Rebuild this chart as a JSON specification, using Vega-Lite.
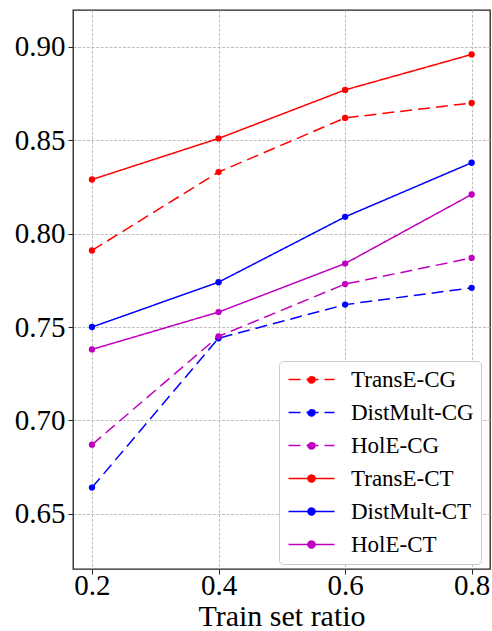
{
  "$schema": "https://vega.github.io/schema/vega-lite/v6.json",
  "width": 417,
  "height": 559,
  "autosize": "none",
  "padding": {"left": 73, "top": 10, "right": 2, "bottom": 62},
  "background": "white",
  "config": {
    "view": {"stroke": "#222222", "strokeWidth": 1.3},
    "font": "Liberation Serif",
    "axis": {
      "domain": false,
      "grid": true,
      "gridColor": "#b0b0b0",
      "gridDash": [3, 1.5],
      "gridWidth": 0.8,
      "ticks": true,
      "tickColor": "#222222",
      "tickSize": 5,
      "tickWidth": 1,
      "labelFont": "Liberation Serif",
      "labelFontSize": 29,
      "labelColor": "#000000",
      "titleFont": "Liberation Serif",
      "titleFontSize": 30,
      "titleFontWeight": "normal",
      "titleColor": "#000000"
    }
  },
  "data": {
    "values": [
      {"ratio": 0.2, "score": 0.791, "series": "TransE-CG"},
      {"ratio": 0.4, "score": 0.833, "series": "TransE-CG"},
      {"ratio": 0.6, "score": 0.862, "series": "TransE-CG"},
      {"ratio": 0.8, "score": 0.870, "series": "TransE-CG"},
      {"ratio": 0.2, "score": 0.664, "series": "DistMult-CG"},
      {"ratio": 0.4, "score": 0.744, "series": "DistMult-CG"},
      {"ratio": 0.6, "score": 0.762, "series": "DistMult-CG"},
      {"ratio": 0.8, "score": 0.771, "series": "DistMult-CG"},
      {"ratio": 0.2, "score": 0.687, "series": "HolE-CG"},
      {"ratio": 0.4, "score": 0.745, "series": "HolE-CG"},
      {"ratio": 0.6, "score": 0.773, "series": "HolE-CG"},
      {"ratio": 0.8, "score": 0.787, "series": "HolE-CG"},
      {"ratio": 0.2, "score": 0.829, "series": "TransE-CT"},
      {"ratio": 0.4, "score": 0.851, "series": "TransE-CT"},
      {"ratio": 0.6, "score": 0.877, "series": "TransE-CT"},
      {"ratio": 0.8, "score": 0.896, "series": "TransE-CT"},
      {"ratio": 0.2, "score": 0.750, "series": "DistMult-CT"},
      {"ratio": 0.4, "score": 0.774, "series": "DistMult-CT"},
      {"ratio": 0.6, "score": 0.809, "series": "DistMult-CT"},
      {"ratio": 0.8, "score": 0.838, "series": "DistMult-CT"},
      {"ratio": 0.2, "score": 0.738, "series": "HolE-CT"},
      {"ratio": 0.4, "score": 0.758, "series": "HolE-CT"},
      {"ratio": 0.6, "score": 0.784, "series": "HolE-CT"},
      {"ratio": 0.8, "score": 0.821, "series": "HolE-CT"}
    ]
  },
  "mark": {
    "type": "line",
    "strokeWidth": 1.5,
    "point": {"filled": true, "size": 40}
  },
  "encoding": {
    "x": {
      "field": "ratio",
      "type": "quantitative",
      "scale": {"domain": [0.17, 0.829], "nice": false, "zero": false},
      "axis": {"values": [0.2, 0.4, 0.6, 0.8], "format": ".1f", "title": "Train set ratio", "labelPadding": -3, "titlePadding": 1, "labelFont": "Liberation Serif", "labelFontSize": 29, "titleFont": "Liberation Serif"}
    },
    "y": {
      "field": "score",
      "type": "quantitative",
      "scale": {"domain": [0.6204, 0.9198], "nice": false, "zero": false},
      "axis": {"values": [0.65, 0.70, 0.75, 0.80, 0.85, 0.90], "format": ".2f", "title": null, "labelPadding": 3, "labelFont": "Liberation Serif", "labelFontSize": 29}
    },
    "color": {
      "field": "series",
      "type": "nominal",
      "scale": {
        "domain": ["TransE-CG", "DistMult-CG", "HolE-CG", "TransE-CT", "DistMult-CT", "HolE-CT"],
        "range": ["#ff0000", "#0000ff", "#bf00bf", "#ff0000", "#0000ff", "#bf00bf"]
      },
      "legend": {
        "title": null,
        "orient": "none",
        "legendX": 206,
        "legendY": 351,
        "padding": 7,
        "fillColor": "white",
        "strokeColor": "#cccccc",
        "cornerRadius": 4,
        "symbolType": "M-4.6,0H4.6M0.7,0A0.7,0.7,0,1,1,-0.7,0A0.7,0.7,0,1,1,0.7,0Z",
        "symbolSize": 100,
        "symbolStrokeWidth": 1.5,
        "symbolOffset": 14,
        "labelOffset": 28,
        "labelFont": "Liberation Serif",
        "labelFontSize": 23,
        "labelColor": "#000000",
        "rowPadding": 9,
        "encode": {
          "symbols": {"update": {"fill": {"scale": "color", "field": "value"}}}
        }
      }
    },
    "strokeDash": {
      "field": "series",
      "type": "nominal",
      "scale": {
        "domain": ["TransE-CG", "DistMult-CG", "HolE-CG", "TransE-CT", "DistMult-CT", "HolE-CT"],
        "range": [[12, 6], [12, 6], [12, 6], [1, 0], [1, 0], [1, 0]]
      },
      "legend": null
    }
  }
}
